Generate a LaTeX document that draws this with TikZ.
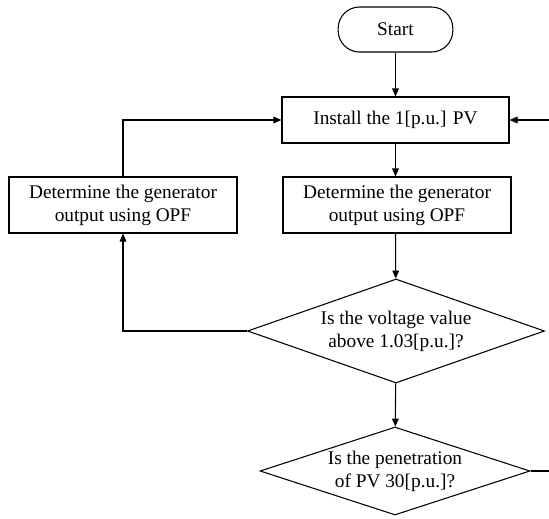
\documentclass[tikz,border=0pt]{standalone}
\usepackage{fontspec}
\setmainfont{Liberation Serif}
\usepackage{tikz}
\usetikzlibrary{shapes.geometric, arrows.meta, positioning}

\begin{document}
\begin{tikzpicture}
  [
    x=0.75pt, y=-0.75pt,
    font=\fontsize{14.5}{17.25}\selectfont,
    Term/.style={rectangle, rounded corners=16pt, draw=black, line width=0.8pt, minimum width=86pt, minimum height=33.75pt, inner sep=0pt},
    Box/.style={rectangle, draw=black, line width=0.8pt, align=center, inner sep=0pt, minimum width=171pt, minimum height=42pt},
    Ask/.style={diamond, draw=black, line width=0.8pt, align=center, inner sep=0pt, aspect=2.9},
    Flow/.style={-{Triangle[length=6pt, width=5pt]}, draw, line width=0.8pt}
  ]
  \useasboundingbox (0,0) rectangle (549,518);

  % Nodes (x, y)
  \node[Term] (start) at(395.5, 29.5) {Start};
  \node[Box, minimum width=170.25pt, minimum height=34.5pt] (install) at(395.5, 120) {Install the 1[p.u.] PV};
  \node[Box] (optR) at(397, 205) {Determine the generator\\output using OPF};
  \node[Box] (optL) at(123, 205) {Determine the generator\\output using OPF};
  \node[Ask, minimum width=222.75pt, minimum height=78pt] (volt) at(396, 331) {Is the voltage value\\above 1.03[p.u.]?};
  \node[Ask, minimum width=202.5pt, minimum height=66pt] (pene) at(395, 471) {Is the penetration\\of PV 30[p.u.]?};
  \coordinate (back) at(549, 120);
  \coordinate (more) at(549, 471);

  % Lines
  \path [Flow] (start) -- (install);
  \path [Flow] (install) -- (optR.north -| install);
  \path [Flow] (optR.south -| install) -- (volt);
  \path [Flow] (volt) -- (pene);
  % voltage too high
  \path [Flow] (volt.west) -| (optL.south);
  \path [Flow] (optL.north) |- (install.west);
  % next PV step
  \path [Flow] (back) -- (install.east);
  \path [draw, line width=0.8pt] (pene.east) -- (more);

\end{tikzpicture}
\end{document}
